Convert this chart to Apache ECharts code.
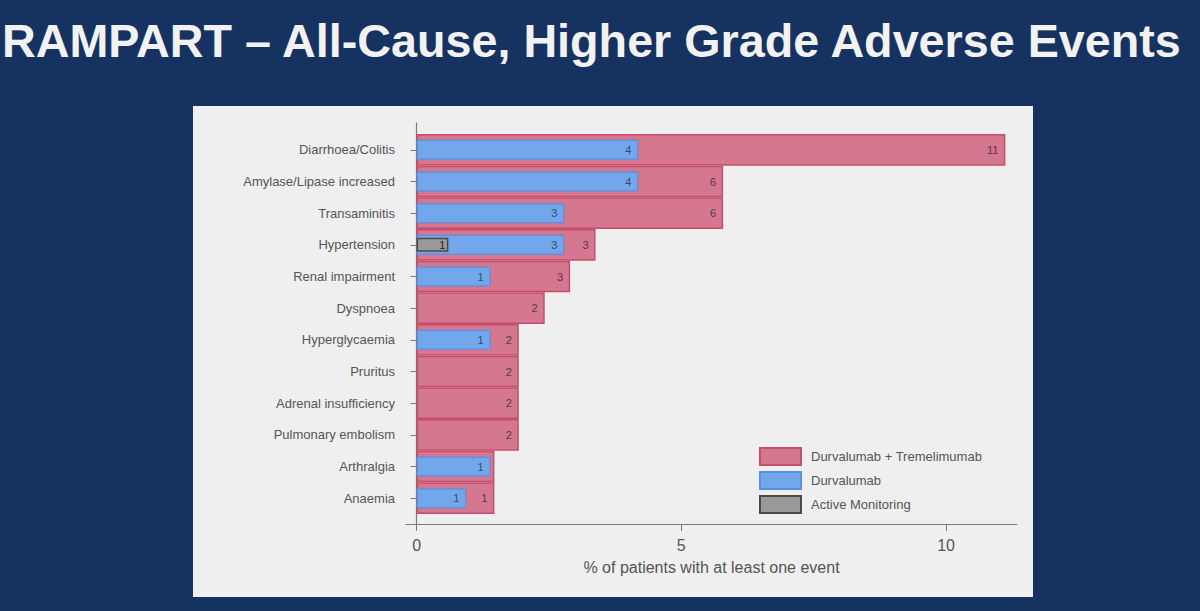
<!DOCTYPE html>
<html>
<head>
<meta charset="utf-8">
<style>
  html, body { margin: 0; padding: 0; background: #163261; }
  #chart { width: 1200px; height: 611px; }
</style>
<script src="https://cdn.jsdelivr.net/npm/echarts@6/dist/echarts.min.js"></script>
</head>
<body>
<div id="chart"></div>
<script>
var categories = [
  'Diarrhoea/Colitis', 'Amylase/Lipase increased', 'Transaminitis', 'Hypertension',
  'Renal impairment', 'Dyspnoea', 'Hyperglycaemia', 'Pruritus',
  'Adrenal insufficiency', 'Pulmonary embolism', 'Arthralgia', 'Anaemia'
];
var seriesNames = ['Durvalumab + Tremelimumab', 'Durvalumab', 'Active Monitoring'];
// % of patients; the printed labels are these rounded
var durvaTremeValues = [11.12, 5.79, 5.79, 3.38, 2.90, 2.42, 1.93, 1.93, 1.93, 1.93, 1.47, 1.47];
var durvaValues = [4.19, 4.19, 2.79, 2.79, 1.40, null, 1.40, null, null, null, 1.40, 0.94];
var monitoringValues = [null, null, null, 0.60, null, null, null, null, null, null, null, null];
var xTicks = [0, 5, 10];

(function() {
  var pink = '#d4778f', pinkEdge = '#c64d6c';
  var blue = '#72a7ec', blueEdge = '#5a90e2';
  var grey = '#9a9a9a', greyEdge = '#4a4a4a';
  var ink = '#555555';
  var axisCol = '#7a7a7a';
  var xMin = -0.2, xMax = 11.34;

  function roundLabel(p) { return Math.round(p.value); }

  var chart = echarts.init(document.getElementById('chart'), null, { renderer: 'svg' });

  var catAxis = function(show) {
    return {
      type: 'category',
      gridIndex: 0,
      data: categories,
      inverse: true,
      show: show,
      axisLine: { show: false },
      axisTick: { show: show, alignWithLabel: true, length: 6, lineStyle: { color: axisCol } },
      axisLabel: { show: show, color: ink, fontSize: 13, margin: 11, fontFamily: 'Liberation Sans, Arial, sans-serif' }
    };
  };

  chart.setOption({
    animation: false,
    backgroundColor: '#163261',
    graphic: [
      { type: 'rect', left: 193, top: 106, shape: { width: 840, height: 491 }, style: { fill: '#efefef' }, z: -10 },
      { type: 'text', left: 2, top: 17, style: { text: 'RAMPART \u2013 All-Cause, Higher Grade Adverse Events', fill: '#f2f2f2', font: 'bold 46.7px "Liberation Sans", Arial, sans-serif' } }
    ],
    grid: [
      { left: 406, right: 183, top: 134, bottom: 97, containLabel: false },
      { left: 406, right: 183, top: 123, bottom: 87, containLabel: false }
    ],
    xAxis: [
      { type: 'value', gridIndex: 0, min: xMin, max: xMax, show: false },
      {
        type: 'value', gridIndex: 1, min: xMin, max: xMax,
        axisLine: { show: true, lineStyle: { color: axisCol, width: 1.2 } },
        axisTick: { show: true, length: 7, customValues: xTicks, lineStyle: { color: axisCol } },
        axisLabel: { color: ink, fontSize: 16, margin: 13, customValues: xTicks, fontFamily: 'Liberation Sans, Arial, sans-serif' },
        splitLine: { show: false },
        name: '% of patients with at least one event',
        nameLocation: 'middle',
        nameGap: 35,
        nameTextStyle: { color: ink, fontSize: 16, fontFamily: 'Liberation Sans, Arial, sans-serif', verticalAlign: 'top' }
      }
    ],
    yAxis: [
      catAxis(true),
      catAxis(false),
      catAxis(false),
      {
        type: 'value', gridIndex: 1, min: 0, max: 1,
        axisLine: { show: true, lineStyle: { color: axisCol, width: 1.2 } },
        axisTick: { show: false }, axisLabel: { show: false }, splitLine: { show: false }
      }
    ],
    legend: {
      orient: 'vertical',
      left: 754,
      top: 442,
      itemWidth: 41,
      itemHeight: 17,
      itemGap: 5,
      icon: 'rect',
      data: seriesNames,
      textStyle: { color: ink, fontSize: 13, padding: [0, 0, 0, 5], fontFamily: 'Liberation Sans, Arial, sans-serif' }
    },
    series: [
      {
        name: seriesNames[0], type: 'bar', xAxisIndex: 0, yAxisIndex: 0,
        data: durvaTremeValues, barWidth: '100%',
        itemStyle: { color: pink, borderColor: pinkEdge, borderWidth: 1.5 },
        label: { show: true, position: 'insideRight', distance: 7, formatter: roundLabel, color: '#5b3644', fontSize: 11 },
        z: 2
      },
      {
        name: seriesNames[1], type: 'bar', xAxisIndex: 0, yAxisIndex: 1,
        data: durvaValues, barWidth: '63%',
        itemStyle: { color: blue, borderColor: blueEdge, borderWidth: 1.2 },
        label: { show: true, position: 'insideRight', distance: 7, formatter: roundLabel, color: '#3c4a66', fontSize: 11 },
        z: 3
      },
      {
        name: seriesNames[2], type: 'bar', xAxisIndex: 0, yAxisIndex: 2,
        data: monitoringValues, barWidth: '44%',
        itemStyle: { color: grey, borderColor: greyEdge, borderWidth: 1.5 },
        label: { show: true, position: 'insideRight', distance: 3, formatter: roundLabel, color: '#222222', fontSize: 11 },
        z: 4
      }
    ]
  });
})();
</script>
</body>
</html>
